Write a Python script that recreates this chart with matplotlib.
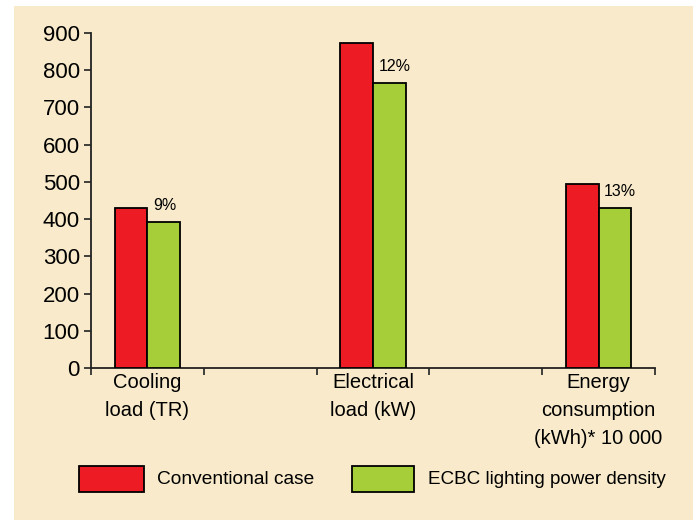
import matplotlib
matplotlib.use("Agg")
import matplotlib.pyplot as plt
from matplotlib.patches import Rectangle

categories = ["Cooling\nload (TR)", "Electrical\nload (kW)", "Energy\nconsumption\n(kWh)* 10 000"]
conventional = [430, 872, 495]
ecbc = [393, 767, 430]
pct_labels = ["9%", "12%", "13%"]
series_names = ["Conventional case", "ECBC lighting power density"]
yticks = [0, 100, 200, 300, 400, 500, 600, 700, 800, 900]

RED = "#ED1C24"
GREEN = "#A6CE39"
BEIGE = "#F8EACA"
FONT = ["Liberation Sans", "DejaVu Sans"]
plt.rcParams["font.family"] = FONT

W, H = 693, 520
fig = plt.figure(figsize=(W / 100, H / 100), dpi=100)
fig.patch.set_facecolor("white")
fig.patches.append(Rectangle((14 / W, 0), 1, 1 - 6 / H, transform=fig.transFigure,
                             facecolor=BEIGE, edgecolor="none", zorder=-10))

ax = fig.add_axes([91 / W, 1 - 368 / H, (655 - 91) / W, (368 - 33) / H])
ax.set_facecolor("none")

xpos = [0, 2, 4]
bw = 0.29
for i, x in enumerate(xpos):
    ax.bar(x - bw / 2, conventional[i], width=bw, color=RED, edgecolor="black", linewidth=1.3, zorder=3)
    ax.bar(x + bw / 2, ecbc[i], width=bw, color=GREEN, edgecolor="black", linewidth=1.3, zorder=3)
    ax.text(x + 0.05, ecbc[i] + 24, pct_labels[i], fontsize=11.5, ha="left", va="bottom")

ax.set_xlim(-0.5, 4.5)
ax.set_ylim(0, 900)
ax.set_yticks(yticks)
ax.set_yticklabels([str(v) for v in yticks], fontsize=16)
ax.set_xticks([-0.5, 0.5, 1.5, 2.5, 3.5, 4.5])
ax.set_xticklabels([])
ax.tick_params(axis="both", direction="out", length=5, width=1.2, color="#222222")
ax.tick_params(axis="y", pad=3)
for s in ["top", "right"]:
    ax.spines[s].set_visible(False)
for s in ["left", "bottom"]:
    ax.spines[s].set_linewidth(1.3)
    ax.spines[s].set_color("#222222")

for i, x in enumerate(xpos):
    ax.text(x, -14, categories[i], transform=ax.transData, fontsize=14.5,
            ha="center", va="top", linespacing=1.6)

# legend
lh = 26 / H
ly = 1 - 492 / H
fig.patches.append(Rectangle((79 / W, ly), 65 / W, lh, transform=fig.transFigure,
                             facecolor=RED, edgecolor="black", linewidth=1.3))
fig.patches.append(Rectangle((352 / W, ly), 62 / W, lh, transform=fig.transFigure,
                             facecolor=GREEN, edgecolor="black", linewidth=1.3))
fig.text(157 / W, ly + lh / 2, series_names[0], fontsize=13.8, va="center", ha="left")
fig.text(428 / W, ly + lh / 2, series_names[1], fontsize=13.6, va="center", ha="left")

fig.savefig("out.png", dpi=100, facecolor=fig.get_facecolor())
